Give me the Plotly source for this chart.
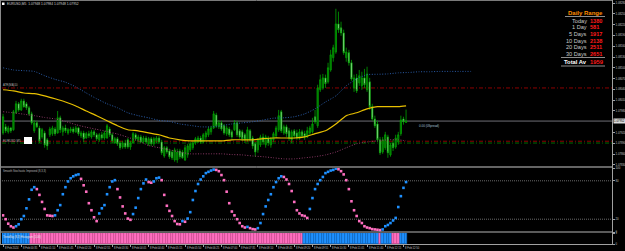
import plotly.graph_objects as go

W, H = 625, 251

# ---------------- data ----------------
bars = list(range(156))

opens = [
    1.07919, 1.07936, 1.07922, 1.07933, 1.07928, 1.07975, 1.08000, 1.07983, 1.08008, 1.08000,
    1.07989, 1.07972, 1.07925, 1.07947, 1.07933, 1.07908, 1.07919, 1.07900, 1.07914, 1.07917,
    1.07930, 1.07919, 1.07961, 1.07922, 1.07933, 1.07919, 1.07925, 1.07930, 1.07922, 1.07933,
    1.07911, 1.07919, 1.07905, 1.07917, 1.07908, 1.07922, 1.07914, 1.07900, 1.07914, 1.07905,
    1.07905, 1.07930, 1.07914, 1.07891, 1.07903, 1.07891, 1.07880, 1.07891, 1.07900, 1.07880,
    1.07891, 1.07914, 1.07900, 1.07908, 1.07894, 1.07905, 1.07889, 1.07903, 1.07889, 1.07897,
    1.07905, 1.07894, 1.07855, 1.07878, 1.07869, 1.07866, 1.07844, 1.07844, 1.07869, 1.07866,
    1.07844, 1.07858, 1.07872, 1.07878, 1.07891, 1.07894, 1.07905, 1.07894, 1.07908, 1.07914,
    1.07922, 1.07933, 1.07969, 1.07936, 1.07947, 1.07939, 1.07917, 1.07930, 1.07922, 1.07928,
    1.07947, 1.07925, 1.07922, 1.07914, 1.07900, 1.07925, 1.07905, 1.07889, 1.07872, 1.07886,
    1.07908, 1.07886, 1.07905, 1.07886, 1.07900, 1.07911, 1.07928, 1.07978, 1.07919, 1.07936,
    1.07925, 1.07900, 1.07925, 1.07919, 1.07905, 1.07922, 1.07917, 1.07908, 1.07919, 1.07922,
    1.07964, 1.07939, 1.08039, 1.08044, 1.08072, 1.08061, 1.08094, 1.08128, 1.08144, 1.08222,
    1.08211, 1.08197, 1.08128, 1.08142, 1.08114, 1.08044, 1.08072, 1.08058, 1.08050, 1.08072,
    1.08039, 1.08061, 1.07992, 1.07958, 1.07944, 1.07900, 1.07866, 1.07878, 1.07908, 1.07858,
    1.07891, 1.07880, 1.07894, 1.07917, 1.07958, 1.07948,
]
highs = [
    1.07972, 1.07944, 1.07939, 1.07936, 1.07983, 1.08008, 1.08005, 1.08014, 1.08014, 1.08005,
    1.07994, 1.07978, 1.07955, 1.07953, 1.07939, 1.07933, 1.07925, 1.07905, 1.07936, 1.07939,
    1.07936, 1.07980, 1.07967, 1.07939, 1.07942, 1.07933, 1.07936, 1.07936, 1.07939, 1.07936,
    1.07925, 1.07925, 1.07922, 1.07925, 1.07928, 1.07928, 1.07919, 1.07919, 1.07922, 1.07925,
    1.07944, 1.07936, 1.07919, 1.07908, 1.07908, 1.07897, 1.07897, 1.07900, 1.07905, 1.07897,
    1.07922, 1.07919, 1.07914, 1.07914, 1.07911, 1.07911, 1.07908, 1.07908, 1.07908, 1.07911,
    1.07911, 1.07900, 1.07883, 1.07883, 1.07875, 1.07872, 1.07878, 1.07875, 1.07875, 1.07872,
    1.07886, 1.07889, 1.07894, 1.07897, 1.07908, 1.07911, 1.07911, 1.07919, 1.07925, 1.07936,
    1.07939, 1.07980, 1.07975, 1.07955, 1.07953, 1.07944, 1.07939, 1.07936, 1.07928, 1.07955,
    1.07953, 1.07930, 1.07928, 1.07919, 1.07936, 1.07930, 1.07911, 1.07894, 1.07905, 1.07914,
    1.07917, 1.07914, 1.07911, 1.07908, 1.07922, 1.07939, 1.07983, 1.07983, 1.07942, 1.07942,
    1.07933, 1.07928, 1.07930, 1.07928, 1.07930, 1.07928, 1.07925, 1.07936, 1.07939, 1.07961,
    1.07983, 1.08053, 1.08081, 1.08083, 1.08081, 1.08114, 1.08150, 1.08164, 1.08264, 1.08256,
    1.08228, 1.08206, 1.08156, 1.08150, 1.08122, 1.08081, 1.08083, 1.08094, 1.08089, 1.08097,
    1.08103, 1.08072, 1.08000, 1.07967, 1.07953, 1.07908, 1.07908, 1.07922, 1.07914, 1.07891,
    1.07900, 1.07914, 1.07922, 1.07967, 1.07964, 1.07984,
]
lows = [
    1.07914, 1.07919, 1.07917, 1.07919, 1.07925, 1.07972, 1.07978, 1.07980, 1.07989, 1.07983,
    1.07967, 1.07942, 1.07919, 1.07933, 1.07891, 1.07903, 1.07878, 1.07872, 1.07908, 1.07911,
    1.07911, 1.07917, 1.07919, 1.07911, 1.07919, 1.07914, 1.07919, 1.07917, 1.07919, 1.07911,
    1.07905, 1.07894, 1.07903, 1.07905, 1.07903, 1.07908, 1.07897, 1.07894, 1.07900, 1.07900,
    1.07903, 1.07908, 1.07891, 1.07889, 1.07883, 1.07872, 1.07875, 1.07875, 1.07875, 1.07872,
    1.07889, 1.07897, 1.07894, 1.07891, 1.07889, 1.07889, 1.07883, 1.07883, 1.07883, 1.07891,
    1.07889, 1.07858, 1.07850, 1.07861, 1.07847, 1.07844, 1.07839, 1.07836, 1.07847, 1.07847,
    1.07841, 1.07850, 1.07866, 1.07872, 1.07886, 1.07891, 1.07889, 1.07891, 1.07900, 1.07908,
    1.07914, 1.07930, 1.07933, 1.07930, 1.07925, 1.07914, 1.07911, 1.07908, 1.07903, 1.07925,
    1.07908, 1.07903, 1.07897, 1.07891, 1.07894, 1.07894, 1.07875, 1.07853, 1.07864, 1.07880,
    1.07886, 1.07878, 1.07883, 1.07878, 1.07894, 1.07905, 1.07922, 1.07919, 1.07914, 1.07908,
    1.07897, 1.07891, 1.07903, 1.07900, 1.07900, 1.07905, 1.07900, 1.07905, 1.07914, 1.07917,
    1.07944, 1.07933, 1.08033, 1.08039, 1.08044, 1.08056, 1.08089, 1.08117, 1.08139, 1.08197,
    1.08189, 1.08136, 1.08117, 1.08106, 1.08064, 1.08033, 1.08030, 1.08050, 1.08039, 1.08044,
    1.08033, 1.07983, 1.07953, 1.07933, 1.07894, 1.07858, 1.07861, 1.07872, 1.07850, 1.07853,
    1.07869, 1.07875, 1.07886, 1.07911, 1.07942, 1.07948,
]
closes = [
    1.07964, 1.07925, 1.07933, 1.07925, 1.07978, 1.08000, 1.07983, 1.08008, 1.07992, 1.07989,
    1.07972, 1.07947, 1.07947, 1.07936, 1.07897, 1.07928, 1.07886, 1.07883, 1.07930, 1.07933,
    1.07917, 1.07961, 1.07928, 1.07933, 1.07925, 1.07928, 1.07930, 1.07922, 1.07933, 1.07917,
    1.07919, 1.07903, 1.07917, 1.07911, 1.07922, 1.07914, 1.07903, 1.07914, 1.07905, 1.07919,
    1.07939, 1.07914, 1.07897, 1.07903, 1.07889, 1.07878, 1.07891, 1.07880, 1.07880, 1.07891,
    1.07917, 1.07903, 1.07908, 1.07894, 1.07905, 1.07894, 1.07903, 1.07889, 1.07903, 1.07905,
    1.07894, 1.07864, 1.07878, 1.07866, 1.07853, 1.07850, 1.07872, 1.07866, 1.07853, 1.07850,
    1.07878, 1.07883, 1.07889, 1.07891, 1.07903, 1.07905, 1.07894, 1.07914, 1.07919, 1.07930,
    1.07933, 1.07972, 1.07939, 1.07947, 1.07930, 1.07919, 1.07933, 1.07914, 1.07908, 1.07947,
    1.07914, 1.07908, 1.07903, 1.07900, 1.07928, 1.07900, 1.07883, 1.07866, 1.07900, 1.07908,
    1.07894, 1.07908, 1.07891, 1.07903, 1.07917, 1.07933, 1.07967, 1.07925, 1.07936, 1.07917,
    1.07905, 1.07922, 1.07911, 1.07905, 1.07922, 1.07911, 1.07908, 1.07925, 1.07933, 1.07944,
    1.07950, 1.08044, 1.08067, 1.08072, 1.08056, 1.08100, 1.08136, 1.08156, 1.08222, 1.08206,
    1.08197, 1.08142, 1.08144, 1.08114, 1.08069, 1.08072, 1.08036, 1.08078, 1.08072, 1.08053,
    1.08083, 1.07992, 1.07958, 1.07939, 1.07900, 1.07864, 1.07900, 1.07914, 1.07864, 1.07886,
    1.07878, 1.07905, 1.07914, 1.07955, 1.07950, 1.07952,
]

ma_bars = [0, 4, 8, 12, 16, 20, 24, 28, 32, 36, 40, 44, 48, 52, 56, 60, 64, 68, 72, 76,
           80, 84, 88, 92, 96, 100, 104, 108, 112, 116, 120, 124, 128, 132, 136, 140, 144, 148, 152, 155]
ma_vals = [1.08039, 1.08036, 1.08030, 1.08028, 1.08022, 1.08014, 1.08005, 1.07994, 1.07980, 1.07967,
           1.07953, 1.07939, 1.07928, 1.07925, 1.07919, 1.07914, 1.07905, 1.07900, 1.07897, 1.07897,
           1.07897, 1.07897, 1.07900, 1.07900, 1.07900, 1.07903, 1.07905, 1.07905, 1.07905, 1.07908,
           1.07917, 1.07925, 1.07944, 1.07967, 1.07975, 1.07986, 1.07992, 1.07992, 1.07992, 1.07994]

upper_bars = [0, 4, 8, 12, 16, 20, 24, 28, 32, 36, 40, 44, 48, 52, 56, 60, 64, 68, 72, 76,
              80, 84, 88, 92, 96, 100, 104, 108, 112, 116, 120, 124, 128, 132, 136, 140, 144, 148, 152, 156,
              160, 164, 168, 172, 176, 180]
upper_vals = [1.08100, 1.08094, 1.08092, 1.08090, 1.08078, 1.08068, 1.08060, 1.08047, 1.08030, 1.08014,
              1.08000, 1.07989, 1.07975, 1.07967, 1.07961, 1.07954, 1.07951, 1.07944, 1.07940, 1.07936,
              1.07936, 1.07939, 1.07944, 1.07947, 1.07950, 1.07955, 1.07960, 1.07961, 1.07964, 1.07972,
              1.07986, 1.08005, 1.08022, 1.08050, 1.08069, 1.08081, 1.08082, 1.08083, 1.08086, 1.08087,
              1.08089, 1.08089, 1.08090, 1.08090, 1.08090, 1.08090]

lower_bars = ma_bars
lower_vals = [1.07978, 1.07975, 1.07971, 1.07967, 1.07962, 1.07958, 1.07951, 1.07942, 1.07935, 1.07929,
              1.07923, 1.07916, 1.07907, 1.07897, 1.07884, 1.07878, 1.07872, 1.07866, 1.07861, 1.07861,
              1.07861, 1.07861, 1.07859, 1.07858, 1.07855, 1.07853, 1.07850, 1.07847, 1.07847, 1.07850,
              1.07853, 1.07858, 1.07866, 1.07878, 1.07889, 1.07894, 1.07897, 1.07900, 1.07900, 1.07897]

osc_vals = [
    26, 20, 13, 9, 7, 9, 12, 20, 25, 37,
    51, 66, 70, 67, 58, 47, 36, 26, 25.5, 25,
    26, 34, 42, 59, 70, 79, 84, 87, 89, 90,
    83, 73, 63, 45, 34, 23, 17, 29, 37, 42,
    59, 70, 79, 81, 67, 54, 40, 29, 21, 19,
    28, 38, 53, 67, 76, 82, 78, 77, 79, 84,
    85, 81, 58, 41, 33, 25, 17, 12.5, 12, 17,
    16, 21, 31, 50, 64, 75, 82, 87, 92, 94,
    96, 97.5, 97, 95, 89, 81, 63, 45, 32, 26,
    20, 14, 9, 7, 8, 6, 4.5, 4, 6, 14,
    28, 40, 50, 59, 70, 78, 84, 87, 86, 82,
    75, 64, 47, 34, 29, 26, 25, 22, 36, 53,
    67, 75, 81, 86, 92, 94, 96, 97, 99, 98,
    95, 90, 81, 67, 48, 34, 25, 17, 14, 9,
    7, 6, 4.5, 4, 3.5, 3, 4, 9, 11, 14,
    18, 22, 39, 56, 69, 78,
]

hist_state = [
    1, 1, 1, 1, 1, 1, 1, 1, 1, 1, 1, -1, -1, -1, -1, -1, -1, -1, -1, -1,
    -1, -1, -1, -1, -1, -1, -1, -1, -1, -1, -1, -1, -1, -1, -1, -1, -1, -1, -1, -1,
    -1, -1, -1, -1, -1, -1, -1, -1, -1, -1, -1, -1, -1, -1, -1, -1, -1, -1, -1, -1,
    -1, -1, -1, -1, -1, -1, -1, -1, -1, -1, -1, -1, -1, -1, -1, -1, -1, -1, -1, -1,
    -1, -1, -1, -1, -1, -1, -1, -1, -1, -1, -1, -1, -1, -1, -1, -1, -1, -1, -1, -1,
    -1, -1, -1, -1, -1, -1, -1, -1, -1, -1, -1, -1, -1, -1, -1, -1, 1, 1, 1, 1,
    1, 1, 1, 1, 1, 1, 1, 1, 1, 1, 1, 1, 1, 1, 1, 1, 1, 1, 1, 1,
    1, 1, 1, 1, 1, -1, 1, 1, 1, 1, -1, -1, -1, 1, 1, 1,
]

price_ticks = [1.07830, 1.07860, 1.07890, 1.07920, 1.07950, 1.07980, 1.08010, 1.08040,
               1.08070, 1.08100, 1.08130, 1.08160, 1.08190, 1.08220, 1.08250, 1.08280]

time_bars = [0, 7, 14, 21, 28, 35, 42, 49, 56, 63, 70, 77, 84, 91, 98, 105, 112, 119, 126, 133, 140, 147, 154]
time_labels = ["8 Feb 2024", "8 Feb 00:35", "8 Feb 01:10", "8 Feb 01:45", "8 Feb 02:20", "8 Feb 02:55",
               "8 Feb 03:30", "8 Feb 04:05", "8 Feb 04:40", "8 Feb 05:15", "8 Feb 05:50", "8 Feb 06:25",
               "8 Feb 07:00", "8 Feb 07:35", "8 Feb 08:10", "8 Feb 08:45", "8 Feb 09:20", "8 Feb 09:55",
               "8 Feb 10:30", "8 Feb 11:05", "8 Feb 11:40", "8 Feb 12:15", "8 Feb 12:50"]

red_levels = [1.08044, 1.07896]
green_level = 1.07891
bid_price = 1.07952

osc_levels = [80, 20]
osc_ticks = [100, 80, 20, 0]

dr_labels = ["Today", "1 Day", "5 Days", "10 Days", "20 Days", "30 Days"]
dr_values = [1380, 581, 1917, 2138, 2511, 2651]
dr_total = 1959

title_text = "EURUSD,M5  1.07948 1.07984 1.07948 1.07952"

# ---------------- helpers ----------------
def px_x(p):
    return p / W


def px_y(p):
    return 1 - p / H


FONT = "Liberation Sans, Arial, sans-serif"
BLUE = "#1E90FF"
PINK = "#FF6EC0"

osc_colors = [PINK] + [BLUE if osc_vals[i] > osc_vals[i - 1] else PINK for i in range(1, len(osc_vals))]
hist_colors = [BLUE if s > 0 else PINK for s in hist_state]
hist_line = ["#1268C0" if s > 0 else "#D8509A" for s in hist_state]
hist_height = [abs(s) for s in hist_state]

# the bid price label covers the axis label at the same level (as in MetaTrader)
shown_ticks = [p for p in price_ticks if abs(p - bid_price) > 0.0001]
shown_tick_text = ["%.5f" % p for p in shown_ticks]

fig = go.Figure()

fig.add_trace(go.Scatter(x=upper_bars, y=upper_vals, mode="lines", yaxis="y",
                         line=dict(color="#2A5CA8", width=1, dash="1px,1.6px", shape="spline", smoothing=0.6),
                         hoverinfo="skip"))
fig.add_trace(go.Scatter(x=lower_bars, y=lower_vals, mode="lines", yaxis="y",
                         line=dict(color="#8E3A68", width=1, dash="1px,1.6px", shape="spline", smoothing=0.6),
                         hoverinfo="skip"))
fig.add_trace(go.Candlestick(x=bars, open=opens, high=highs, low=lows, close=closes, yaxis="y",
                             increasing=dict(line=dict(color="#00A000", width=0.8), fillcolor="#006E00"),
                             decreasing=dict(line=dict(color="#00A000", width=0.8), fillcolor="#D8FFD8"),
                             whiskerwidth=0, hoverinfo="skip"))
fig.add_trace(go.Scatter(x=ma_bars, y=ma_vals, mode="lines", yaxis="y",
                         line=dict(color="#E8C000", width=1.2, shape="spline", smoothing=0.6),
                         hoverinfo="skip"))
fig.add_trace(go.Scatter(x=bars, y=osc_vals, mode="markers", yaxis="y2",
                         marker=dict(color=osc_colors, size=2.6, symbol="square", line=dict(width=0)),
                         hoverinfo="skip"))
fig.add_trace(go.Bar(x=bars, y=hist_height, yaxis="y3", width=1.0,
                     marker=dict(color=hist_colors, line=dict(color=hist_line, width=0.5)),
                     hoverinfo="skip"))

shapes = []
for lv in red_levels:
    shapes.append(dict(type="line", xref="paper", yref="y", x0=px_x(2), x1=px_x(612), y0=lv, y1=lv,
                       line=dict(color="#8B0000", width=1, dash="4px,2px,1px,2px"), layer="below"))
shapes.append(dict(type="line", xref="paper", yref="y", x0=px_x(2), x1=px_x(612), y0=green_level, y1=green_level,
                   line=dict(color="#006A00", width=1, dash="4px,2px,1px,2px"), layer="below"))
shapes.append(dict(type="line", xref="paper", yref="y", x0=px_x(2), x1=px_x(612), y0=bid_price, y1=bid_price,
                   line=dict(color="#6E6E76", width=1), layer="below"))
for lv in osc_levels:
    shapes.append(dict(type="line", xref="paper", yref="y2", x0=px_x(2), x1=px_x(612), y0=lv, y1=lv,
                       line=dict(color="#6A6A6A", width=1, dash="1px,1px"), layer="below"))
for yy, col in [(0.5, "#7A7A7A"), (167, "#C8C8C8"), (232, "#B4B4B4"), (244.5, "#A0A0A0")]:
    shapes.append(dict(type="line", xref="paper", yref="paper", x0=0, x1=px_x(612.5), y0=px_y(yy), y1=px_y(yy),
                       line=dict(color=col, width=1)))
shapes.append(dict(type="line", xref="paper", yref="paper", x0=px_x(612.5), x1=px_x(612.5), y0=px_y(0), y1=px_y(245),
                   line=dict(color="#A0A0A0", width=1)))
shapes.append(dict(type="line", xref="paper", yref="paper", x0=px_x(0.5), x1=px_x(0.5), y0=px_y(0), y1=px_y(245),
                   line=dict(color="#8A8A8A", width=1)))
for yy, x0 in [(16.5, 565), (57.5, 561), (66, 561)]:
    shapes.append(dict(type="line", xref="paper", yref="paper", x0=px_x(x0), x1=px_x(605), y0=px_y(yy), y1=px_y(yy),
                       line=dict(color="#8C8C8C", width=1)))
shapes.append(dict(type="rect", xref="paper", yref="paper", x0=px_x(2), x1=px_x(4.5), y0=px_y(5), y1=px_y(2.5),
                   fillcolor="#FFFFFF", line=dict(width=0)))
shapes.append(dict(type="rect", xref="paper", yref="paper", x0=px_x(24), x1=px_x(32), y0=px_y(144), y1=px_y(137),
                   fillcolor="#FFFFFF", line=dict(width=0)))

ann = []


def text(x, y, s, size, color, anchor="left", bold=False, yref="paper", bg=None):
    d = dict(x=px_x(x), y=(px_y(y) if yref == "paper" else y), xref="paper", yref=yref,
             text=("<b>%s</b>" % s if bold else s),
             showarrow=False, xanchor=anchor, yanchor="middle",
             font=dict(family=FONT, size=size, color=color), borderpad=0)
    if bg:
        d["bgcolor"] = bg
    ann.append(d)


text(5.5, 4, title_text, 3.3, "#D0D0D0")
text(2, 85.5, "ATR(MA)10", 2.8, "#B0B0B0")
text(2, 140.5, "EURUSD,M5", 3.0, "#B0B0B0")
text(418, 126, "0.00 (0Spread)", 3.0, "#A8C4DC")
text(2, 171, "Smooth Stochastic Improved (8,3,3)", 2.7, "#B8B8B8")
text(2, 236.5, "TrendSig (8,3) Histogram (1.00)", 2.7, "#E8E8E8")
text(612.8, bid_price, "1.07952", 2.9, "#000000", yref="y", bg="#DCDCDC")

text(604, 13.3, "Daily Range", 6.0, "#FF8C00", anchor="right", bold=True)
dr_y = [20.7, 27.3, 34.0, 40.7, 47.3, 53.7]
for lab, val, yy in zip(dr_labels, dr_values, dr_y):
    text(588, yy, lab, 5.6, "#C8C8C8", anchor="right")
    text(589, yy, str(val), 5.6, "#FF1A1A", anchor="left", bold=True)
text(588, 62, "Total Av", 5.8, "#FFFFFF", anchor="right", bold=True)
text(589, 62, str(dr_total), 5.8, "#FF1A1A", anchor="left", bold=True)

x_lo, x_hi = -0.4, 234.2
for b, lab in zip(time_bars, time_labels):
    xp = 2 + (b - x_lo) / (x_hi - x_lo) * 610
    text(xp + 0.5, 248, lab, 2.7, "#C0C0C0")

axis_common = dict(showgrid=False, zeroline=False, showline=False, fixedrange=True,
                   ticks="outside", ticklen=2, tickcolor="#A0A0A0", automargin=False,
                   tickfont=dict(family=FONT, size=2.8, color="#C0C0C0"))

fig.update_layout(
    width=W, height=H, template="none",
    margin=dict(l=0, r=0, t=0, b=0, pad=0),
    paper_bgcolor="#000000", plot_bgcolor="rgba(0,0,0,0)",
    showlegend=False, bargap=0,
    xaxis=dict(domain=[px_x(2), px_x(612)], range=[x_lo, x_hi], anchor="y3",
               tickvals=time_bars, showticklabels=False,
               rangeslider=dict(visible=False), **axis_common),
    yaxis=dict(domain=[px_y(167), px_y(2)], range=[1.078244, 1.082828], side="right", anchor="x",
               tickvals=shown_ticks, ticktext=shown_tick_text, **axis_common),
    yaxis2=dict(domain=[px_y(232), px_y(168)], range=[0, 100], side="right", anchor="x",
                tickvals=osc_ticks, ticktext=[str(v) for v in osc_ticks], **axis_common),
    yaxis3=dict(domain=[px_y(244), px_y(233)], range=[0, 1], side="right", anchor="x",
                tickvals=[1, 0], ticktext=["1", "0"], **axis_common),
    shapes=shapes, annotations=ann,
)

fig.write_html("out.html")
